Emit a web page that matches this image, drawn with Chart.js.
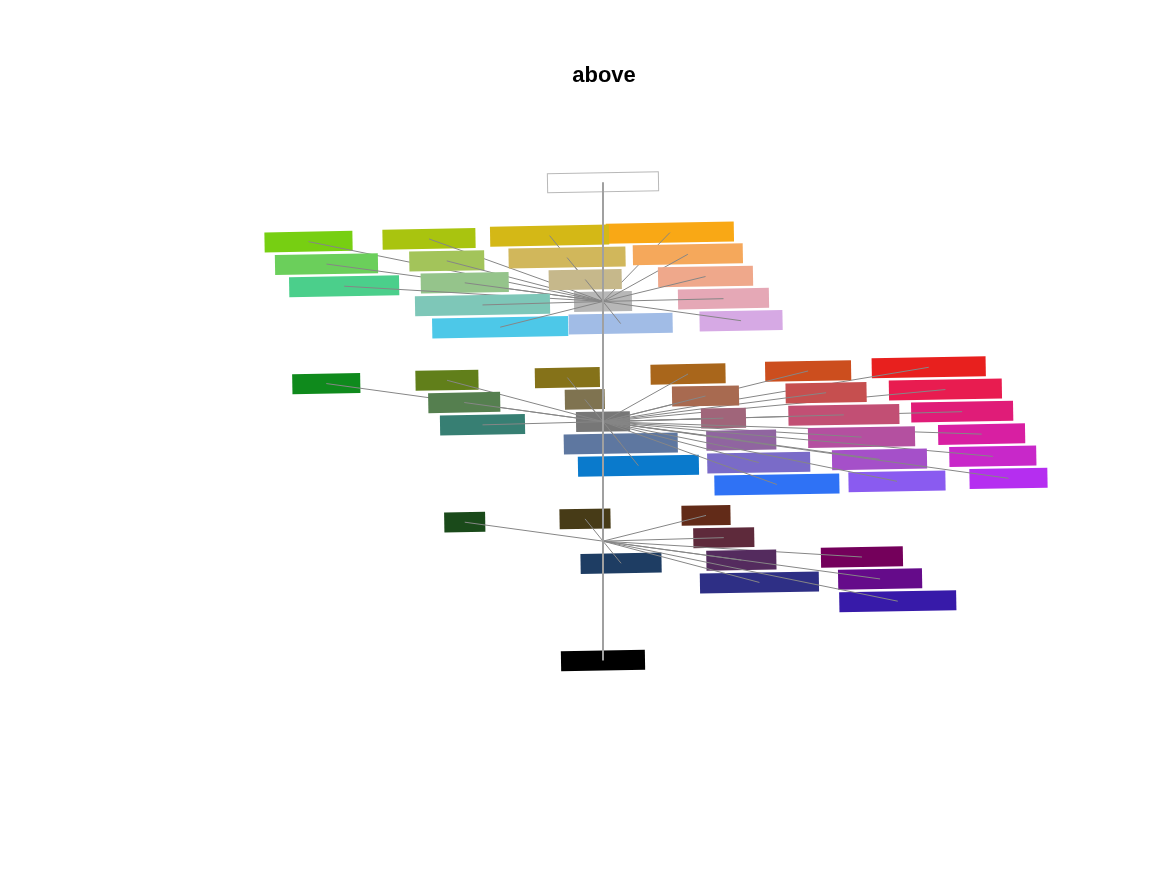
<!DOCTYPE html>
<html>
<head>
<meta charset="utf-8">
<script src="https://cdn.jsdelivr.net/npm/chart.js@4"></script>
<style>
html,body{margin:0;padding:0;background:#fff;}
canvas{display:block;}
</style>
</head>
<body>
<canvas id="c" width="1167" height="875"></canvas>
<script>
const titleText = 'above';

// Node names (labels are blank boxes in the picture)
const nodeNames = [
  'white','silver hub','gray hub','dark hub','black',
  'l1','l2','l3','l4','l5','l6','l7','l8','l9','l10','l11','l12','l13','l14','l15','l16','l17',
  'm1','m2','m3','m4','m5','m6','m7','m8','m9','m10','m11','m12','m13','m14','m15','m16','m17','m18','m19','m20','m21','m22','m23','m24','m25','m26',
  'd1','d2','d3','d4','d5','d6','d7','d8','d9','d10'
];

// horizontal position (relative to trunk)
const nodeX = [
  0, 0, 0, 0, 0,
  -295, -277, -259.3, -174.3, -156.5, -138.5, -120.7, -103, -53.5, -36, -17.8, 17.7, 67, 85, 102.7, 120.7, 138.3,
  -277.2, -156.3, -139, -120.7, -35.7, -18.2, 17.8, 35.5, 85.2, 102.7, 120.7, 138.5, 156, 174.2,
  205.5, 223.5, 241.3, 259, 277, 294.5, 326.3, 343, 359.8, 379.3, 390.5, 406.2,
  -138.5, -18, 103.2, 121, 18.1, 138.6, 156.7, 259.4, 277.6, 295.3
];

// vertical position (relative to root)
const nodeY = [
  479.5, 360, 239.5, 119.7, 0,
  420, 397.5, 375.3, 422.7, 400.7, 378.7, 356.5, 334.2, 426, 404, 382, 337.8, 429, 407.3, 385, 362.8, 340.7,
  277.7, 281, 258.7, 236.3, 283.7, 261.8, 217.5, 195.3, 287.3, 265.2, 243, 221, 198.5, 176.5,
  290.3, 268.5, 246.3, 224, 201.7, 179.7, 294, 271.7, 249.5, 227, 204.7, 182.7,
  138.7, 142, 145.5, 123.2, 97.5, 100.7, 78.3, 103.8, 81.8, 59.5
];

// parent of each node (-1 = root)
const nodeParent = [
  1, 2, 3, 4, -1,
  1,1,1,1,1,1,1,1,1,1,1,1,1,1,1,1,1,
  2,2,2,2,2,2,2,2,2,2,2,2,2,2,2,2,2,2,2,2,2,2,2,2,2,2,
  3,3,3,3,3,3,3,3,3,3
];

// trunk path, top to bottom
const trunkPath = [0, 1, 2, 3, 4];

// styles
const nodeColor = [
  '#ffffff','#b7b7b7','#777777',null,'#000000',
  '#77cf12','#6bcf5b','#4bcf8b','#a9c40f','#a3c45a','#95c48b','#7ec7b8','#4dc8e8','#d4b816','#d1b75b','#c6b88b','#a1bce6','#f9a815','#f5a85b','#efa88b','#e5a8b6','#d6a9e4',
  '#0f8a1c','#617f1a','#557f4f','#377f73','#857219','#7f7350','#5e77a0','#0a7acc','#a9661b','#a86a50','#a0657a','#9065a0','#7a6bc8','#2f72f5',
  '#cc4e1e','#c64f4f','#c24f74','#b450a0','#a550c9','#8a5bf0','#e8201e','#e81c50','#e01c78','#d81fa2','#c828c9','#b52ef0',
  '#1a4a1a','#473b17','#622b18','#5e2a3b','#1e3d63','#542b5e','#2e2f85','#74005b','#650b8a','#371aa9'
];
const boxWidth = [
  112, 58, 54, 0, 84,
  88, 103, 110, 93, 75, 88, 135, 136, 119, 117, 73, 104, 128, 110, 95, 91, 83,
  68, 63, 72, 85, 65, 40, 114, 121, 75, 67, 45, 70, 103, 125,
  86, 81, 111, 107, 95, 97, 114, 113, 102, 87, 87, 78,
  41, 51, 49, 61, 81, 70, 119, 82, 84, 117
];
const boxHeight = 20;
const boxTilt = -1.0;

function makeBox(color, w) {
  const c = document.createElement('canvas');
  c.width = w; c.height = boxHeight;
  const g = c.getContext('2d');
  g.fillStyle = color;
  g.fillRect(0, 0, w, boxHeight);
  if (color === '#ffffff') {
    g.strokeStyle = '#b8b8b8';
    g.lineWidth = 1;
    g.strokeRect(0.5, 0.5, w - 1, boxHeight - 1);
  }
  return c;
}

const pt = i => ({ x: nodeX[i], y: nodeY[i] });
const datasets = [];
let seq = 0;
function push(ds) { ds.order = 1000 - seq++; datasets.push(ds); }
function boxDs(i) {
  return {
    label: nodeNames[i], data: [pt(i)], showLine: false,
    pointStyle: makeBox(nodeColor[i], boxWidth[i]),
    pointRadius: 1, pointHoverRadius: 1, pointRotation: boxTilt
  };
}
function edgeDs(i) {
  return {
    label: nodeNames[i] + ' edge', data: [pt(nodeParent[i]), pt(i)], showLine: true,
    borderColor: '#868686', borderWidth: 1, pointRadius: 0, pointHoverRadius: 0
  };
}

// trunk node boxes first
trunkPath.forEach(i => { if (nodeColor[i]) push(boxDs(i)); });
// leaves back to front
const leaves = nodeNames.map((_, i) => i).filter(i => !trunkPath.includes(i));
leaves.sort((a, b) => nodeY[b] - nodeY[a]);
leaves.forEach(i => { push(boxDs(i)); push(edgeDs(i)); });
// trunk line on top
push({
  label: 'trunk', data: trunkPath.map(pt), showLine: true,
  borderColor: '#a0a0a0', borderWidth: 2, pointRadius: 0, pointHoverRadius: 0
});

new Chart(document.getElementById('c'), {
  type: 'scatter',
  data: { datasets },
  options: {
    responsive: false,
    animation: false,
    events: [],
    layout: { padding: { left: 41, right: 0, top: 0, bottom: 0 } },
    plugins: {
      legend: { display: false },
      tooltip: { enabled: false },
      title: {
        display: true, text: titleText, color: '#000',
        font: { family: '"Liberation Sans", Arial, Helvetica, sans-serif', size: 22, weight: 'bold' },
        padding: { top: 63, bottom: 0 }
      }
    },
    scales: {
      x: { type: 'linear', min: -563, max: 563, display: false },
      y: { type: 'linear', min: -213, max: 572.6, display: false }
    }
  }
});
</script>
</body>
</html>
